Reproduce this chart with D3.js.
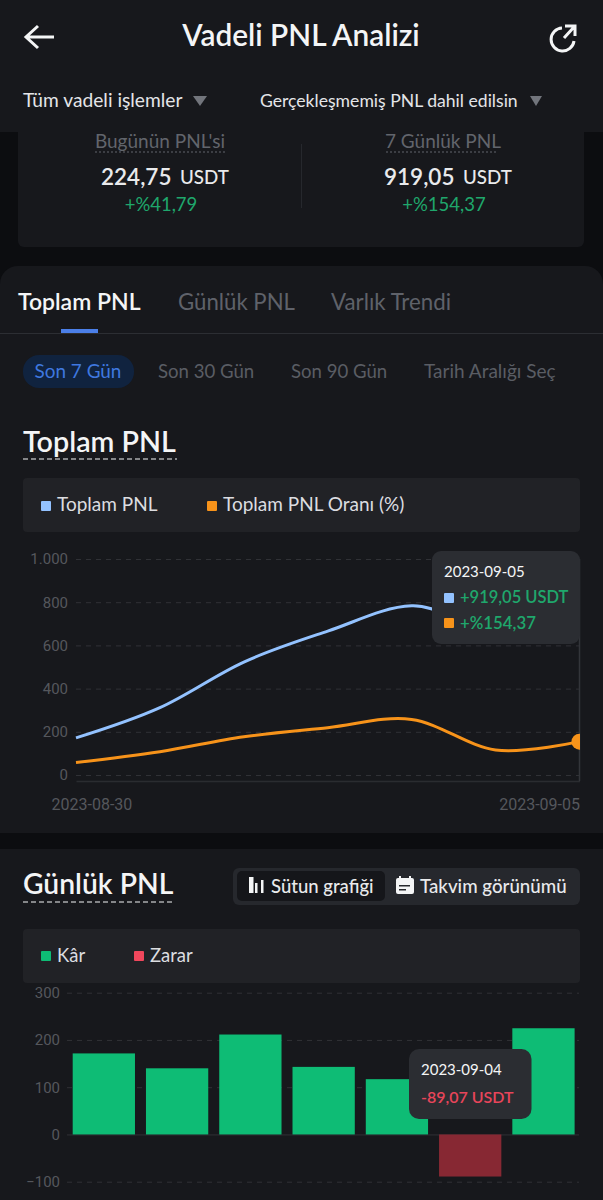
<!DOCTYPE html>
<html>
<head>
<meta charset="utf-8">
<script src="https://cdn.jsdelivr.net/npm/d3@7"></script>
<style>
html,body{margin:0;padding:0;background:#0c0d10;}
svg{display:block;}
text{font-family:Lato,sans-serif;}
.axisText text{font-family:Roboto,sans-serif;font-size:15px;fill:#55575c;}
.axisText.dates text{font-size:16px;}
</style>
</head>
<body>
<div id="chart"></div>
<script>
// data
var dates = ["2023-08-30","2023-08-31","2023-09-01","2023-09-02","2023-09-03","2023-09-04","2023-09-05"];
var totalPnl = [172,312,523,666,783,694,919.05];
var totalRate = [58,108,177,219,257,116,154.37];
var dailyPnl = [171.5,140,211.5,143,117,-89.07,224.75];
var lineTicks = [0,200,400,600,800,1000];
var lineTickLabels = ["0","200","400","600","800","1.000"];
var barTicks = [-100,0,100,200,300];

var width = 603, height = 1200;

var svg = d3.select("#chart").append("svg")
	.attr("width", width)
	.attr("height", height);

function label(x, y, str, size, fill, anchor, weight){
	return svg.append("text")
		.attr("x", x)
		.attr("y", y)
		.attr("font-size", size)
		.attr("fill", fill)
		.attr("text-anchor", anchor || "start")
		.attr("font-weight", weight || 400)
		.text(str);
}

function box(x, y, w, h, r, fill){
	return svg.append("rect")
		.attr("x", x).attr("y", y)
		.attr("width", w).attr("height", h)
		.attr("rx", r)
		.attr("fill", fill);
}

function dashed(x1, x2, y, color, dash){
	return svg.append("line")
		.attr("x1", x1).attr("x2", x2)
		.attr("y1", y).attr("y2", y)
		.attr("stroke", color)
		.attr("stroke-dasharray", dash);
}

// panels
box(18, 120, 566, 127, 6, "#17181c");
box(0, 0, width, 132, 0, "#17181c");
box(0, 266, width, 590, 18, "#17181c");
box(0, 833, width, 16, 0, "#0c0d10");
box(0, 849, width, 351, 0, "#17181c");

// header
svg.append("path")
	.attr("d", "M54 37H27M38 26L26 37L38 48")
	.attr("fill", "none").attr("stroke", "#f4f5f6").attr("stroke-width", 3);
label(301, 46, "Vadeli PNL Analizi", 29.800, "#f4f5f6", "middle", 600);
svg.append("path")
	.attr("d", "M562 28A11.500 11.500 0 1 0 574 41M564 38L574 27M565 26H575V36")
	.attr("fill", "none").attr("stroke", "#f4f5f6").attr("stroke-width", 3);

label(23, 107, "Tüm vadeli işlemler", 19.200, "#e4e5e8");
svg.append("path").attr("d", "M193 96H207L200 106Z").attr("fill", "#72757c");
label(260, 107, "Gerçekleşmemiş PNL dahil edilsin", 17.600, "#e4e5e8");
svg.append("path").attr("d", "M530 96H542L536 106Z").attr("fill", "#72757c");

// summary card
label(160, 148, "Bugünün PNL'si", 19, "#62656c", "middle");
dashed(95, 225, 152, "#62656c", "2 2");
label(443, 148, "7 Günlük PNL", 19, "#62656c", "middle");
dashed(386, 497, 152, "#62656c", "2 2");
box(301, 144, 1, 64, 0, "#26282d");
label(101, 185, "224,75", 22.500, "#e9eaec", "start", 600);
label(180, 184, "USDT", 18.800, "#e9eaec", "start", 500);
label(384, 185, "919,05", 22.500, "#e9eaec", "start", 600);
label(463, 184, "USDT", 18.800, "#e9eaec", "start", 500);
label(161, 211, "+%41,79", 18.500, "#1fa76c", "middle");
label(444, 211, "+%154,37", 18.500, "#1fa76c", "middle");

// tabs
label(18, 310, "Toplam PNL", 23, "#f4f5f6", "start", 600);
label(178, 310, "Günlük PNL", 22.200, "#5f626a");
label(331, 310, "Varlık Trendi", 22.300, "#5f626a");
box(0, 333, width, 1, 0, "#2c2e33");
box(61, 329, 37, 4, 0, "#4b7fe8");

box(23, 355, 111, 33, 16, "#10233f");
label(78, 378, "Son 7 Gün", 18.900, "#3f78df", "middle");
label(158, 378, "Son 30 Gün", 18.600, "#5a5d64");
label(291, 378, "Son 90 Gün", 18.600, "#5a5d64");
label(424, 378, "Tarih Aralığı Seç", 19, "#5a5d64");

label(23, 452, "Toplam PNL", 28.700, "#f4f5f6", "start", 600);
dashed(23, 177, 459, "#f4f5f6", "5 3");

box(23, 478, 557, 54, 4, "#212226");
box(41, 501, 10, 10, 1, "#93c2ff");
label(57, 511, "Toplam PNL", 19, "#dcdde0");
box(207, 501, 10, 10, 1, "#f7931a");
label(223, 511, "Toplam PNL Oranı (%)", 19, "#dcdde0");

// line chart
var xLine = d3.scalePoint().domain(dates).range([76, 579.5]);
var yLine = d3.scaleLinear().domain([0, 1000]).range([775, 559]);

var lineAxis = svg.append("g")
	.attr("class", "axisText")
	.attr("transform", "translate(76,0)")
	.call(d3.axisLeft(yLine)
		.tickValues(lineTicks)
		.tickSize(-503)
		.tickPadding(8)
		.tickFormat(function(d,i){ return lineTickLabels[i]; }));
lineAxis.select(".domain").remove();
lineAxis.selectAll("line").attr("stroke", "#303136").attr("stroke-dasharray", "5 5");

var xAxis = svg.append("g")
	.attr("class", "axisText dates")
	.attr("transform", "translate(0,781)")
	.call(d3.axisBottom(xLine)
		.tickValues([dates[0], dates[6]])
		.tickSize(0)
		.tickPadding(18));
xAxis.select(".domain").attr("stroke", "#2a2c30").attr("stroke-width", 1.5);
xAxis.selectAll("text")
	.attr("text-anchor", function(d,i){ return i == 0 ? "start" : "end"; })
	.attr("x", function(d,i){ return i == 0 ? -25 : 0; });

// pointer line
svg.append("line")
	.attr("x1", xLine(dates[6])).attr("x2", xLine(dates[6]))
	.attr("y1", yLine(1000)).attr("y2", 781)
	.attr("stroke", "#33353a").attr("stroke-width", 1.5);

svg.append("clipPath").attr("id", "plotClip")
	.append("rect").attr("x", 60).attr("y", 540).attr("width", 520).attr("height", 250);

var lineGen = d3.line()
	.x(function(d,i){ return xLine(dates[i]); })
	.y(function(d){ return yLine(d); })
	.curve(d3.curveCatmullRom.alpha(0));

var lineSeries = [
	{values: totalPnl, color: "#93c2ff"},
	{values: totalRate, color: "#f7931a"}
];

var plot = svg.append("g").attr("clip-path", "url(#plotClip)");
plot.selectAll("path")
	.data(lineSeries)
	.enter().append("path")
	.attr("d", function(d){ return lineGen(d.values); })
	.attr("fill", "none")
	.attr("stroke", function(d){ return d.color; })
	.attr("stroke-width", 3);
plot.append("circle")
	.attr("cx", xLine(dates[6]))
	.attr("cy", yLine(totalRate[6]))
	.attr("r", 8)
	.attr("fill", "#f7931a");

// tooltip of the line chart
box(432, 551, 148, 93, 9, "#2b2d32");
label(444, 577, dates[6], 15, "#f4f5f6");
box(444, 593, 10, 10, 1, "#93c2ff");
label(460, 603, "+919,05 USDT", 16.500, "#1fa76c", "start", 600);
box(444, 618, 10, 10, 1, "#f7931a");
label(460, 629, "+%154,37", 16.800, "#1fa76c", "start", 600);

// daily section
label(23, 894, "Günlük PNL", 28.300, "#f4f5f6", "start", 600);
dashed(23, 174, 902, "#f4f5f6", "5 3");

box(233, 868, 347, 37, 6, "#26282d");
box(237, 871, 148, 30, 5, "#15161a");
svg.selectAll(".barIcon")
	.data([[249, 5, 16], [255, 3, 10], [261, 3, 13]])
	.enter().append("rect")
	.attr("class", "barIcon")
	.attr("x", function(d){ return d[0]; })
	.attr("y", function(d){ return 893 - d[2]; })
	.attr("width", function(d){ return d[1] - 0.5; })
	.attr("height", function(d){ return d[2]; })
	.attr("fill", "#f4f5f6");
label(271, 893, "Sütun grafiği", 18.500, "#e9eaec", "start", 500);
box(396, 880, 18, 14, 2, "#f4f5f6");
box(396, 878, 18, 5, 2, "#f4f5f6");
box(399, 876, 2, 4, 0, "#f4f5f6");
box(409, 876, 2, 4, 0, "#f4f5f6");
box(399, 885, 11, 1.500, 0, "#26282d");
box(399, 889, 7, 1.500, 0, "#26282d");
label(420, 893, "Takvim görünümü", 18.700, "#e9eaec", "start", 500);

box(23, 929, 557, 54, 4, "#212226");
box(41, 951, 10, 10, 1, "#0ebc75");
label(57, 962, "Kâr", 18.500, "#dcdde0");
box(134, 951, 10, 10, 1, "#f0475c");
label(150, 962, "Zarar", 18.500, "#dcdde0");

// bar chart
var xBar = d3.scaleBand().domain(dates).range([67.2, 580.1]).paddingInner(0.15).paddingOuter(0.075);
var yBar = d3.scaleLinear().domain([-100, 300]).range([1181.7, 992.7]);

var barAxis = svg.append("g")
	.attr("class", "axisText")
	.attr("transform", "translate(67,0)")
	.call(d3.axisLeft(yBar)
		.tickValues(barTicks)
		.tickSize(-512)
		.tickPadding(7)
		.tickFormat(d3.format("d")));
barAxis.select(".domain").remove();
barAxis.selectAll("line")
	.attr("stroke", "#303136")
	.attr("stroke-dasharray", function(d){ return d == 0 ? null : "5 5"; });

svg.selectAll(".bar")
	.data(dailyPnl)
	.enter().append("rect")
	.attr("class", "bar")
	.attr("x", function(d,i){ return xBar(dates[i]); })
	.attr("width", xBar.bandwidth())
	.attr("y", function(d){ return yBar(Math.max(d, 0)); })
	.attr("height", function(d){ return Math.abs(yBar(d) - yBar(0)); })
	.attr("fill", function(d){ return d < 0 ? "#872833" : "#0ebc75"; });

// tooltip of the bar chart
box(409, 1049, 122.500, 70, 10, "#2b2d32");
label(421, 1075, dates[5], 15, "#f4f5f6");
label(421, 1103, "-89,07 USDT", 16, "#e8455a", "start", 600);
</script>
</body>
</html>
